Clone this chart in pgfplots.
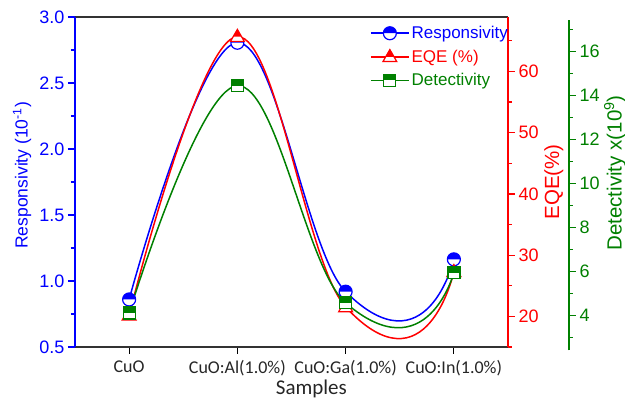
\documentclass[border=0pt]{standalone}
\usepackage{fontspec}
\setmainfont{Liberation Sans}
\newfontfamily\calibri{Carlito}
\usepackage{pgfplots}
\pgfplotsset{compat=1.18}
\definecolor{myblue}{RGB}{0,0,255}
\definecolor{myred}{RGB}{255,0,0}
\definecolor{mygreen}{RGB}{0,128,0}

\pgfdeclareplotmark{hcirc}{%
  \begin{pgfscope}\pgfsetfillcolor{white}%
  \pgfpathcircle{\pgfpointorigin}{\pgfplotmarksize}\pgfusepathqfill
  \end{pgfscope}%
  \pgfpathmoveto{\pgfpoint{\pgfplotmarksize}{0pt}}%
  \pgfpatharc{0}{180}{\pgfplotmarksize}%
  \pgfpathclose
  \pgfusepathqfill
  \pgfpathcircle{\pgfpointorigin}{\pgfplotmarksize}%
  \pgfusepathqstroke
}
\pgfdeclareplotmark{htri}{%
  \begin{pgfscope}\pgfsetfillcolor{white}%
  \pgfpathmoveto{\pgfpoint{0pt}{1.2\pgfplotmarksize}}%
  \pgfpathlineto{\pgfpoint{-1.15\pgfplotmarksize}{-0.8\pgfplotmarksize}}%
  \pgfpathlineto{\pgfpoint{1.15\pgfplotmarksize}{-0.8\pgfplotmarksize}}%
  \pgfpathclose\pgfusepathqfill
  \end{pgfscope}%
  \pgfpathmoveto{\pgfpoint{0pt}{1.2\pgfplotmarksize}}%
  \pgfpathlineto{\pgfpoint{-0.69\pgfplotmarksize}{0pt}}%
  \pgfpathlineto{\pgfpoint{0.69\pgfplotmarksize}{0pt}}%
  \pgfpathclose\pgfusepathqfill
  \pgfpathmoveto{\pgfpoint{0pt}{1.2\pgfplotmarksize}}%
  \pgfpathlineto{\pgfpoint{-1.15\pgfplotmarksize}{-0.8\pgfplotmarksize}}%
  \pgfpathlineto{\pgfpoint{1.15\pgfplotmarksize}{-0.8\pgfplotmarksize}}%
  \pgfpathclose\pgfusepathqstroke
}
\pgfdeclareplotmark{hsq}{%
  \begin{pgfscope}\pgfsetfillcolor{white}%
  \pgfpathrectangle{\pgfpoint{-\pgfplotmarksize}{-\pgfplotmarksize}}{\pgfpoint{2\pgfplotmarksize}{2\pgfplotmarksize}}\pgfusepathqfill
  \end{pgfscope}%
  \pgfpathrectangle{\pgfpoint{-\pgfplotmarksize}{0pt}}{\pgfpoint{2\pgfplotmarksize}{\pgfplotmarksize}}\pgfusepathqfill
  \pgfpathrectangle{\pgfpoint{-\pgfplotmarksize}{-\pgfplotmarksize}}{\pgfpoint{2\pgfplotmarksize}{2\pgfplotmarksize}}\pgfusepathqstroke
}

\pgfplotstableread{
x y
0 0.86
1 2.805
2 0.919
3 1.164
}\resp
\pgfplotstableread{
x y
0 20.2
1 65.7
2 21.55
3 27.3
}\eqe
\pgfplotstableread{
x y
0 4.1
1 14.43
2 4.56
3 5.93
}\detect

\pgfplotsset{
  common/.style={
    scale only axis, width=433pt, height=330pt, at={(0,0)}, anchor=south west,
    xmin=-0.5, xmax=3.5, clip=false,
    tick align=outside, major tick length=7pt, minor tick length=4pt,
    /pgf/number format/assume math mode=true,
    ticklabel style={font=\fontsize{18}{20}\selectfont},
    label style={font=\fontsize{20.5}{22}\selectfont},
  },
  hidL/.style={scale only axis, hide axis, anchor=south west, width=270.625pt, height=330pt, xmin=-0.5, xmax=2},
  hidR/.style={scale only axis, hide axis, anchor=south west, width=162.375pt, height=330pt, xmin=2, xmax=3.5},
  lineL/.style={line width=1.5pt, smooth, tension=0.65, no marks},
  lineR/.style={line width=1.5pt, smooth, tension=1.35, no marks},
  bm/.style={only marks, mark=hcirc, mark size=6.5pt, mark options={myblue, fill=myblue, line width=1.2pt, solid}},
  rm/.style={only marks, mark=htri, mark size=6pt, mark options={myred, fill=myred, line width=1.2pt, solid}},
  gm/.style={only marks, mark=hsq, mark size=6pt, mark options={mygreen, fill=mygreen, line width=1.2pt, solid}},
}

\begin{document}
\begin{tikzpicture}
\useasboundingbox (-75pt,-52pt) rectangle (550pt,347pt);
% ---- curves (each drawn in two clipped pieces) ----
\begin{axis}[hidL, at={(0,0)}, ymin=0.5, ymax=3.0]
\addplot[myblue, lineL] table {\resp};
\end{axis}
\begin{axis}[hidR, at={(270.625pt,0)}, ymin=0.5, ymax=3.0]
\addplot[myblue, lineR] table {\resp};
\end{axis}
\begin{axis}[hidL, at={(0,0)}, ymin=15, ymax=68.9]
\addplot[myred, lineL] table {\eqe};
\end{axis}
\begin{axis}[hidR, at={(270.625pt,0)}, ymin=15, ymax=68.9]
\addplot[myred, lineR] table {\eqe};
\end{axis}
\begin{axis}[hidL, at={(0,-3.5pt)}, ymin=2.395, ymax=17.395]
\addplot[mygreen, lineL] table {\detect};
\end{axis}
\begin{axis}[hidR, at={(270.625pt,-3.5pt)}, ymin=2.395, ymax=17.395]
\addplot[mygreen, lineR] table {\detect};
\end{axis}
% ---- Responsivity axis ----
\begin{axis}[common,
  axis x line*=box, axis y line*=left,
  xtick pos=left,
  ymin=0.5, ymax=3.0,
  ytick={0.5,1.0,1.5,2.0,2.5,3.0},
  minor ytick={0.75,1.25,1.75,2.25,2.75},
  xtick={0,1,2,3},
  xticklabels={CuO, CuO:Al(1.0\%), CuO:Ga(1.0\%), CuO:In(1.0\%)},
  xticklabel style={font=\calibri\fontsize{18}{20}\selectfont, text=black!85, yshift=-3pt},
  x axis line style={black!80, line width=1.5pt},
  y axis line style={myblue, line width=1.5pt},
  xtick style={black, line width=1.2pt},
  ytick style={myblue, line width=1.2pt},
  yticklabel style={myblue, /pgf/number format/.cd, fixed, fixed zerofill, precision=1},
  xlabel={Samples},
  xlabel style={font=\calibri\fontsize{21}{23}\selectfont, text=black!85, at={(axis description cs:0.546,-0.127)}, anchor=center},
  ylabel={Responsivity (10\textsuperscript{-1})},
  ylabel style={myblue, font=\fontsize{17.5}{20}\selectfont, at={(axis description cs:-0.1224,0.52)}, anchor=center},
]
\addplot[bm] table {\resp};
\end{axis}
% ---- EQE axis ----
\begin{axis}[common,
  axis x line=none, axis y line*=right,
  ymin=15, ymax=68.9,
  ytick={20,30,40,50,60},
  minor ytick={15,25,35,45,55,65},
  y axis line style={myred, line width=1.5pt},
  ytick style={myred, line width=1.2pt},
  yticklabel style={myred},
  ylabel={EQE(\%)},
  ylabel style={myred, at={(axis description cs:1.106,0.5)}, anchor=center},
]
\addplot[rm] table {\eqe};
\end{axis}
% ---- Detectivity axis ----
\begin{axis}[common,
  width=494pt, xmax=4.0614, at={(0,-3.5pt)},
  axis x line=none, axis y line*=right,
  ymin=2.395, ymax=17.395,
  ytick={4,6,8,10,12,14,16},
  minor ytick={3,5,7,9,11,13,15,17},
  y axis line style={mygreen, line width=1.5pt},
  ytick style={mygreen, line width=1.2pt},
  yticklabel style={mygreen},
  ylabel={Detectivity x(10\textsuperscript{9})},
  ylabel style={mygreen, at={(axis description cs:1.093,0.538)}, anchor=center},
  legend style={at={(axis description cs:0.597,0.989)}, anchor=north west, draw=none, fill=none,
    font=\fontsize{17}{19}\selectfont, row sep=5.7pt, inner sep=0pt},
  legend cell align=left,
  legend image code/.code={\draw[mark repeat=2, mark phase=2, #1] plot coordinates {(0pt,0pt) (19pt,0pt) (38pt,0pt)};},
]
\addlegendimage{myblue, line width=1.5pt, mark=hcirc, mark size=6.5pt, mark options={fill=myblue, line width=1.2pt, solid}}
\addlegendentry{\textcolor{myblue}{Responsivity}}
\addlegendimage{myred, line width=1.5pt, mark=htri, mark size=6pt, mark options={fill=myred, line width=1.2pt, solid}}
\addlegendentry{\textcolor{myred}{EQE (\%)}}
\addlegendimage{mygreen, line width=1.5pt, mark=hsq, mark size=6pt, mark options={fill=mygreen, line width=1.2pt, solid}}
\addlegendentry{\textcolor{mygreen}{Detectivity}}
\addplot[gm, forget plot] table {\detect};
\end{axis}
\end{tikzpicture}
\end{document}
